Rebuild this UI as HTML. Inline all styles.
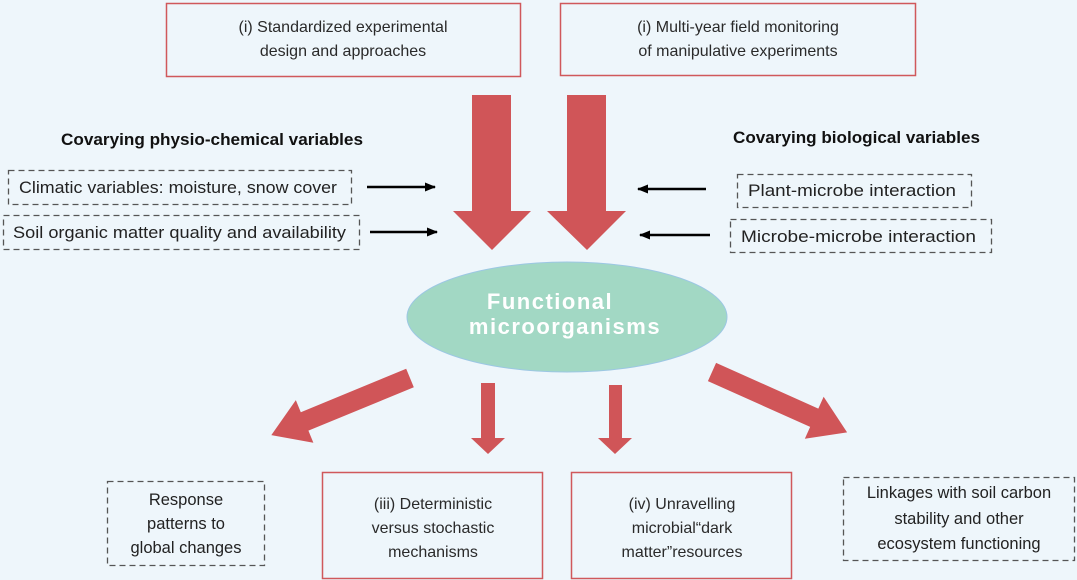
<!DOCTYPE html>
<html><head><meta charset="utf-8"><style>
html,body{margin:0;padding:0;background:#eef6fb;}
svg{display:block;}
.a{font-family:"Liberation Sans",Arial,sans-serif;font-size:16px;fill:#2a2a2a;}
.c{font-family:"Liberation Sans",sans-serif;font-size:16.5px;fill:#222;}
.b{font-family:"Liberation Sans",sans-serif;font-size:17px;font-weight:bold;fill:#111;}
</style></head><body>
<svg width="1077" height="580" viewBox="0 0 1077 580" xmlns="http://www.w3.org/2000/svg">
<rect width="1077" height="580" fill="#eef6fb"/>
<defs><marker id="m" markerWidth="11" markerHeight="9" refX="10" refY="4.5" orient="auto" markerUnits="userSpaceOnUse"><path d="M0,0 L11,4.5 L0,9 z" fill="#000"/></marker></defs>
<rect x="166.5" y="3.5" width="354" height="73" fill="none" stroke="#d0585b" stroke-width="1.5"/>
<text class="a" text-anchor="middle" x="343" y="32">(i) Standardized experimental</text>
<text class="a" text-anchor="middle" x="343" y="56">design and approaches</text>
<rect x="560.5" y="3.5" width="355" height="72" fill="none" stroke="#d0585b" stroke-width="1.5"/>
<text class="a" text-anchor="middle" x="738" y="32">(i) Multi-year field monitoring</text>
<text class="a" text-anchor="middle" x="738" y="56">of manipulative experiments</text>
<polygon points="472,95 511,95 511,211 531,211 492,250 453,211 472,211" fill="#d05558"/>
<polygon points="567,95 606,95 606,211 626,211 587,250 547,211 567,211" fill="#d05558"/>
<text class="b" x="61" y="145" textLength="302" lengthAdjust="spacingAndGlyphs">Covarying physio-chemical variables</text>
<text class="b" x="733" y="143" textLength="247" lengthAdjust="spacingAndGlyphs">Covarying biological variables</text>
<g fill="none" stroke="#555" stroke-width="1.3" stroke-dasharray="6,4">
<rect x="8.5" y="170.5" width="343" height="34"/>
<rect x="3.5" y="215.5" width="356" height="34"/>
<rect x="737.5" y="174.5" width="234" height="33"/>
<rect x="730.5" y="219.5" width="261" height="33"/>
<rect x="107.5" y="481.5" width="157" height="84"/>
<rect x="843.5" y="477.5" width="231" height="83"/>
</g>
<text class="c" x="19" y="193" textLength="318" lengthAdjust="spacingAndGlyphs">Climatic variables: moisture, snow cover</text>
<text class="c" x="13" y="238" textLength="333" lengthAdjust="spacingAndGlyphs">Soil organic matter quality and availability</text>
<text class="c" x="748" y="196" textLength="208" lengthAdjust="spacingAndGlyphs">Plant-microbe interaction</text>
<text class="c" x="741" y="242" textLength="235" lengthAdjust="spacingAndGlyphs">Microbe-microbe interaction</text>
<g stroke="#000" stroke-width="2.4" marker-end="url(#m)">
<line x1="367" y1="187" x2="435" y2="187"/>
<line x1="370" y1="232" x2="437" y2="232"/>
<line x1="706" y1="189" x2="638" y2="189"/>
<line x1="710" y1="235" x2="640" y2="235"/>
</g>
<ellipse cx="567" cy="317" rx="160" ry="55" fill="#a2d8c4" stroke="#9cc7e3" stroke-width="1"/>
<text x="550" y="309" text-anchor="middle" font-family="Liberation Sans,sans-serif" font-size="22" font-weight="bold" fill="#fff" letter-spacing="1.5">Functional</text>
<text x="565" y="334" text-anchor="middle" font-family="Liberation Sans,sans-serif" font-size="22" font-weight="bold" fill="#fff" letter-spacing="1.5">microorganisms</text>
<polygon transform="translate(410,378) rotate(157.6)" points="0,-10 114,-10 114,-23 150,0 114,23 114,10 0,10" fill="#d05558"/>
<polygon transform="translate(712,372) rotate(24.1)" points="0,-10 112,-10 112,-23 148,0 112,23 112,10 0,10" fill="#d05558"/>
<polygon points="481,383 495,383 495,438 505,438 488,454 471,438 481,438" fill="#d05558"/>
<polygon points="609,385 622,385 622,438 632,438 615,454 598,438 609,438" fill="#d05558"/>
<rect x="322.5" y="472.5" width="220" height="106" fill="none" stroke="#d0585b" stroke-width="1.5"/>
<text class="a" text-anchor="middle" x="433" y="509">(iii) Deterministic</text>
<text class="a" text-anchor="middle" x="433" y="533">versus stochastic</text>
<text class="a" text-anchor="middle" x="433" y="557">mechanisms</text>
<rect x="571.5" y="472.5" width="220" height="106" fill="none" stroke="#d0585b" stroke-width="1.5"/>
<text class="a" text-anchor="middle" x="682" y="509">(iv) Unravelling</text>
<text class="a" text-anchor="middle" x="682" y="533">microbial“dark</text>
<text class="a" text-anchor="middle" x="682" y="557">matter”resources</text>
<text class="c" text-anchor="middle" x="186" y="505">Response</text>
<text class="c" text-anchor="middle" x="186" y="529">patterns to</text>
<text class="c" text-anchor="middle" x="186" y="553">global changes</text>
<text class="c" text-anchor="middle" x="959" y="498">Linkages with soil carbon</text>
<text class="c" text-anchor="middle" x="959" y="524">stability and other</text>
<text class="c" text-anchor="middle" x="959" y="549">ecosystem functioning</text>
</svg>
</body></html>
